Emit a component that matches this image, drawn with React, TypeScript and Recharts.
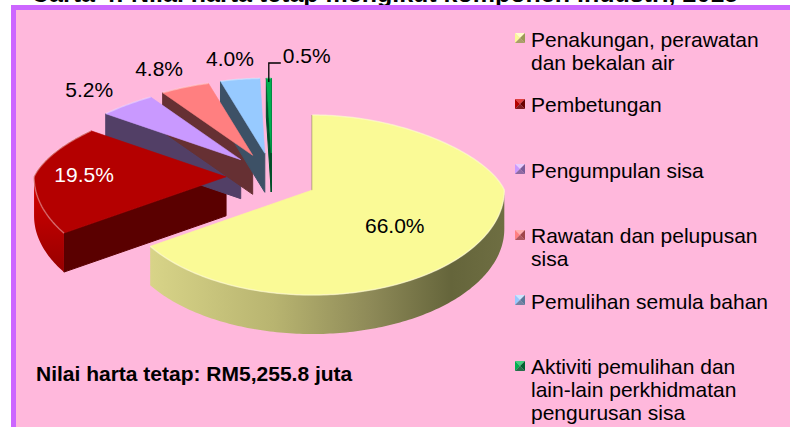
import React from 'react';
import { PieChart, Pie, Legend } from 'recharts';

// ---------- data ----------
const categories = [
  'Penakungan, perawatan dan bekalan air',
  'Pembetungan',
  'Pengumpulan sisa',
  'Rawatan dan pelupusan sisa',
  'Pemulihan semula bahan',
  'Aktiviti pemulihan dan lain-lain perkhidmatan pengurusan sisa',
];
const shares = [66.0, 19.5, 5.2, 4.8, 4.0, 0.5];
const titleText = 'Carta 4: Nilai harta tetap mengikut komponen industri, 2015';
const noteText = 'Nilai harta tetap: RM5,255.8 juta';

const data = categories.map((name, i) => ({ name, value: shares[i] }));

// ---------- style ----------
const FONT = '"Liberation Sans", Arial, Helvetica, sans-serif';
const TOP = ['#FAFA96', '#B40000', '#C999FF', '#FF7F80', '#97CAFF', '#00B050'];
const FACE = ['#6E6E40', '#5A0000', '#523F66', '#663033', '#3D5166', '#00502A'];
const ICON_LIGHT = ['#FFFFC8', '#E04040', '#E6CCFF', '#FFB0B0', '#CCE6FF', '#40D080'];
const ICON_DARK = ['#9A9A55', '#6A0000', '#7A5C99', '#A04548', '#5A7899', '#006030'];

// projection constants (pseudo-3D view of the pie)
const RAD = Math.PI / 180;
const K_BACK = 75 / 192;
const K_FRONT = 105 / 192;
const BACK_SHRINK = 0.18;
const DEPTH = 39;
const EXPLODE_X = 46 / 192;
const EXPLODE_Y = 25 / 192;

function proj(ox: number, oy: number, r: number, th: number): [number, number] {
  const s = Math.sin(th * RAD);
  const c = Math.cos(th * RAD);
  const xs = 1 - BACK_SHRINK * Math.max(c, 0);
  const ky = c > 0 ? K_BACK : K_FRONT;
  return [ox + r * s * xs, oy - r * ky * c];
}

function sliceGeom(p: any) {
  const ts = 90 - p.startAngle;
  const te = 90 - p.endAngle;
  const phi = (ts + te) / 2;
  const R = p.outerRadius;
  const vx = p.cx + R * EXPLODE_X * Math.sin(phi * RAD);
  const vy = p.cy - R * EXPLODE_Y * Math.cos(phi * RAD);
  return { ts, te, phi, R, vx, vy };
}

function arcPts(vx: number, vy: number, R: number, a: number, b: number, dy: number) {
  const n = Math.max(2, Math.ceil(Math.abs(b - a)));
  const pts: string[] = [];
  for (let i = 0; i <= n; i++) {
    const t = a + ((b - a) * i) / n;
    const [x, y] = proj(vx, vy, R, t);
    pts.push(`${x.toFixed(2)},${(y + dy).toFixed(2)}`);
  }
  return pts;
}

const renderSides = (p: any) => {
  const { ts, te, R, vx, vy } = sliceGeom(p);
  const i = p.index;
  const face = (t: number) => {
    const [x, y] = proj(vx, vy, R, t);
    return `M${vx},${vy} L${x},${y} L${x},${y + DEPTH} L${vx},${vy + DEPTH} Z`;
  };
  const parts: React.ReactNode[] = [];
  if (Math.sin(ts * RAD) <= 1e-6) {
    parts.push(<path key="s" d={face(ts)} fill={FACE[i]} stroke={FACE[i]} strokeWidth={1} strokeLinejoin="round" />);
  }
  if (Math.sin(te * RAD) >= -1e-6) {
    parts.push(<path key="e" d={face(te)} fill={FACE[i]} stroke={FACE[i]} strokeWidth={1} strokeLinejoin="round" />);
  }
  const a = Math.max(ts, 90);
  const b = Math.min(te, 270);
  if (b > a) {
    const top = arcPts(vx, vy, R, a, b, 0);
    const bot = arcPts(vx, vy, R, b, a, DEPTH);
    const d = 'M' + top.join(' L') + ' L' + bot.join(' L') + ' Z';
    parts.push(<path key="o" d={d} fill={`url(#side${i})`} />);
  }
  return (
    <g key={`side-${i}`}>
      <defs>
        {i === 0 ? (
          <linearGradient id="side0" x1="0" y1="0" x2="1" y2="0">
            <stop offset="0" stopColor="#D8D488" />
            <stop offset="0.35" stopColor="#B8B470" />
            <stop offset="0.62" stopColor="#8E8A58" />
            <stop offset="0.85" stopColor="#65653B" />
            <stop offset="1" stopColor="#6E6E42" />
          </linearGradient>
        ) : (
          <linearGradient id={`side${i}`} x1="0" y1="0" x2="0" y2="1">
            <stop offset="0" stopColor={i === 1 ? '#D80000' : FACE[i]} />
            <stop offset="1" stopColor={i === 1 ? '#960000' : FACE[i]} />
          </linearGradient>
        )}
      </defs>
      {parts}
    </g>
  );
};

const renderTops = (p: any) => {
  const { ts, te, R, vx, vy } = sliceGeom(p);
  const i = p.index;
  const pts = arcPts(vx, vy, R, ts, te, 0);
  const d = `M${vx},${vy} L${pts.join(' L')} Z`;
  const rim = 'M' + pts.join(' L');
  return (
    <g key={`top-${i}`}>
      <path d={d} fill={TOP[i]} stroke={TOP[i]} strokeWidth={0.6} strokeLinejoin="round" />
      <path d={rim} fill="none" stroke="rgba(255,255,255,0.35)" strokeWidth={1.5} />
    </g>
  );
};

const renderTexts = (p: any) => {
  const { phi, R, vx, vy } = sliceGeom(p);
  const i = p.index;
  const s = Math.sin(phi * RAD);
  const c = Math.cos(phi * RAD);
  const txt = `${Number(p.value).toFixed(1)}%`;
  const common = { fontFamily: FONT, fontSize: 21 };
  if (p.percent > 0.1) {
    const big = p.percent > 0.5;
    const fx = big ? 0.49 : 0.74;
    const fy = big ? 0.71 : 0.74;
    const ky = c > 0 ? K_BACK : K_FRONT;
    const x = vx + R * fx * s;
    const y = vy - R * ky * fy * c;
    return (
      <text key={`t-${i}`} x={x} y={y} textAnchor="middle" dominantBaseline="central" fill={i === 1 ? '#FFFFFF' : '#000000'} {...common}>
        {txt}
      </text>
    );
  }
  if (p.percent > 0.01) {
    const x = vx + R * 1.16 * s;
    const y = vy - R * 0.5 * c;
    return (
      <text key={`t-${i}`} x={x} y={y} textAnchor="middle" dominantBaseline="central" fill="#000000" {...common}>
        {txt}
      </text>
    );
  }
  const [ax, ay] = proj(vx, vy, R, phi);
  const y0 = ay + 4;
  const y1 = ay - 15;
  const x1 = ax + 12;
  return (
    <g key={`t-${i}`}>
      <path d={`M${ax},${y0} L${ax},${y1} L${x1},${y1}`} fill="none" stroke="#000" strokeWidth={1.3} />
      <text x={x1 + 2} y={ay - 23} textAnchor="start" dominantBaseline="central" fill="#000000" {...common}>
        {txt}
      </text>
    </g>
  );
};

const LegendIcon = ({ i }: { i: number }) => (
  <svg width={10} height={10} style={{ position: 'absolute', left: 0, top: 5.5 }}>
    <polygon points="0,0 10,0 5,5" fill={ICON_LIGHT[i]} />
    <polygon points="0,0 5,5 0,10" fill={TOP[i]} />
    <polygon points="10,0 10,10 5,5" fill={ICON_DARK[i]} />
    <polygon points="0,10 5,5 10,10" fill={ICON_DARK[i]} opacity={0.85} />
  </svg>
);

const renderLegend = (props: any) => {
  const seen = new Set<string>();
  const items = (props.payload || [])
    .filter((it: any) => {
      if (seen.has(it.value) || categories.indexOf(it.value) < 0) return false;
      seen.add(it.value);
      return true;
    })
    .sort((a: any, b: any) => categories.indexOf(a.value) - categories.indexOf(b.value));
  return (
    <div style={{ width: 272 }}>
      {items.map((it: any) => {
        const i = categories.indexOf(it.value);
        return (
          <div key={it.value} style={{ position: 'relative', height: 65.6 }}>
            <LegendIcon i={i} />
            <div style={{ marginLeft: 16, width: 243, fontFamily: FONT, fontSize: 21, lineHeight: '23px', color: '#000' }}>
              {it.value}
            </div>
          </div>
        );
      })}
    </div>
  );
};

export default function App() {
  return (
    <div style={{ position: 'absolute', left: 0, top: 0, width: 790, height: 427, overflow: 'hidden', background: '#FFFFFF' }}>
      <svg width={790} height={20} style={{ position: 'absolute', left: 0, top: 0 }}>
        <text x={31} y={1.5} fontFamily={FONT} fontWeight="bold" fontSize={25} fill="#000">
          {titleText}
        </text>
      </svg>
      <div
        style={{
          position: 'absolute',
          left: 11,
          top: 5,
          width: 800,
          height: 440,
          background: '#FFB8DC',
          borderTop: '5px solid #CC66FF',
          borderLeft: '5px solid #CC66FF',
        }}
      />
      <div style={{ position: 'absolute', left: 0, top: 0 }}>
        <PieChart width={790} height={427} margin={{ top: 0, right: 0, bottom: 0, left: 0 }}>
          <Pie
            data={data}
            dataKey="value"
            nameKey="name"
            cx={272}
            cy={178}
            outerRadius={192}
            startAngle={90}
            endAngle={-270}
            fill="none"
            stroke="none"
            isAnimationActive={false}
            label={renderSides}
            labelLine={false}
            legendType="none"
          />
          <Pie
            data={data}
            dataKey="value"
            nameKey="name"
            cx={272}
            cy={178}
            outerRadius={192}
            startAngle={90}
            endAngle={-270}
            fill="none"
            stroke="none"
            isAnimationActive={false}
            label={renderTops}
            labelLine={false}
            legendType="square"
          />
          <Pie
            data={data}
            dataKey="value"
            nameKey="name"
            cx={272}
            cy={178}
            outerRadius={192}
            startAngle={90}
            endAngle={-270}
            fill="none"
            stroke="none"
            isAnimationActive={false}
            label={renderTexts}
            labelLine={false}
            legendType="none"
          />
          <Legend
            content={renderLegend}
            layout="vertical"
            verticalAlign="top"
            align="right"
            wrapperStyle={{ position: 'absolute', left: 515, top: 27.5, width: 272 }}
          />
        </PieChart>
      </div>
      <div
        style={{
          position: 'absolute',
          left: 36,
          top: 362,
          fontFamily: FONT,
          fontWeight: 'bold',
          fontSize: 21,
          lineHeight: '23px',
          color: '#000',
          whiteSpace: 'nowrap',
        }}
      >
        {noteText}
      </div>
    </div>
  );
}
